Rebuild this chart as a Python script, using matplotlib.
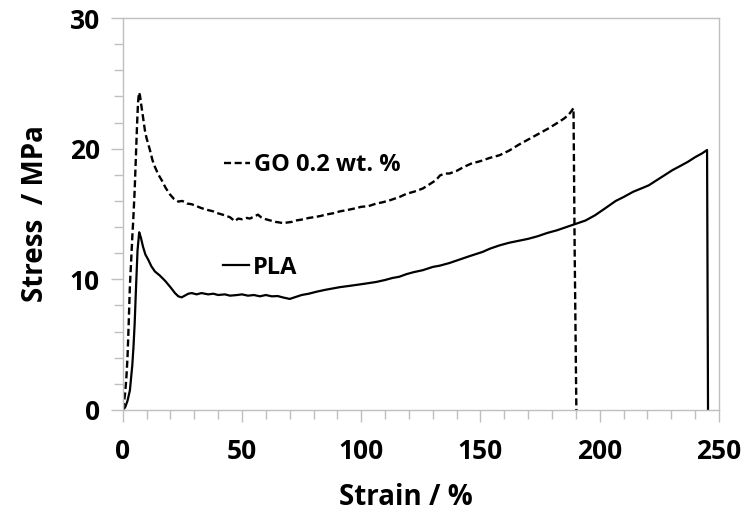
import matplotlib
matplotlib.use("Agg")
import matplotlib.pyplot as plt
from matplotlib.lines import Line2D
from matplotlib.ticker import MultipleLocator

plt.rcParams['font.family'] = ['Open Sans', 'DejaVu Sans']
plt.rcParams['font.weight'] = 'bold'

# PLA (solid)
pla_strain = [0, 1, 2, 3, 4, 4.5, 5, 5.6, 6.2, 6.9, 7.6, 8.5, 9.5, 10.7, 12, 13.5, 15.5,
              17.7, 20, 21.9, 23.3, 24.7, 26, 27.5, 28.9, 31, 33, 35.8, 38, 40, 42.8,
              45, 48, 50, 52.5, 55, 57.5, 60, 62.5, 65, 67.5, 70, 72.5, 75, 78, 81.2,
              85, 88, 91, 95.1, 99, 102, 106.3, 110, 113, 116, 119, 122, 125.8, 130,
              133, 137, 141, 145, 150.9, 154, 158, 162, 166, 170, 174, 178, 182, 186,
              190, 194, 198, 202, 206.7, 210, 214, 218, 220.6, 224, 227, 230.4, 234,
              237, 240, 243, 245, 245.2, 245.4]
pla_stress = [0, 0.2, 0.7, 1.5, 3.4, 4.8, 6.6, 9.5, 12.2, 13.6, 13.2, 12.5, 11.9, 11.5,
              11.0, 10.6, 10.3, 9.9, 9.4, 8.95, 8.7, 8.62, 8.75, 8.9, 8.95, 8.85, 8.95,
              8.85, 8.9, 8.8, 8.85, 8.75, 8.8, 8.85, 8.75, 8.8, 8.7, 8.8, 8.7, 8.72,
              8.6, 8.5, 8.65, 8.8, 8.9, 9.05, 9.2, 9.3, 9.4, 9.5, 9.6, 9.68, 9.8, 9.95,
              10.1, 10.2, 10.4, 10.55, 10.7, 10.95, 11.05, 11.25, 11.5, 11.75, 12.1,
              12.35, 12.6, 12.8, 12.95, 13.1, 13.3, 13.55, 13.75, 14.0, 14.25, 14.5,
              14.9, 15.4, 16.0, 16.3, 16.7, 17.0, 17.2, 17.6, 17.95, 18.35, 18.7, 19.0,
              19.35, 19.65, 19.9, 10.0, 0]

# GO 0.2 wt. % (dashed)
go_strain = [0, 0.5, 1, 1.5, 2, 2.5, 3, 3.5, 4, 4.4, 5, 5.5, 6, 6.4, 6.8, 7.2, 7.8, 8.6,
             9.3, 10, 11.4, 12.5, 13.5, 15, 16.3, 18, 19.8, 21.5, 23.3, 25, 27, 28.9,
             31, 33, 35.8, 38, 40, 42.8, 45, 47, 48.4, 50, 52, 53.3, 55, 56.7, 58, 60,
             62, 64, 65.8, 67.2, 69, 71, 72.5, 74.2, 76, 78, 80, 83, 85, 88.1, 91, 94,
             97.9, 100, 103, 106.3, 109, 112, 116, 119, 122, 125.8, 128, 131.4, 133,
             135, 137, 140, 143, 146, 150, 154, 158, 162, 166, 170, 174, 178, 181.6,
             185, 187, 189, 189.5, 190.2]
go_stress = [0, 0.5, 1.3, 2.4, 4.0, 6.6, 9.5, 11.3, 13.2, 14.5, 16.8, 19.3, 21.8, 23.5,
             24.3, 24.1, 23.3, 22.3, 21.4, 20.8, 19.9, 19.1, 18.6, 18.0, 17.6, 17.0,
             16.5, 16.15, 15.95, 16.0, 15.8, 15.75, 15.6, 15.45, 15.3, 15.2, 15.05,
             14.9, 14.75, 14.45, 14.65, 14.6, 14.7, 14.65, 14.8, 14.95, 14.75, 14.6,
             14.5, 14.4, 14.35, 14.3, 14.35, 14.4, 14.5, 14.55, 14.6, 14.7, 14.75,
             14.85, 14.95, 15.05, 15.2, 15.3, 15.45, 15.55, 15.6, 15.8, 15.9, 16.05,
             16.3, 16.55, 16.7, 16.95, 17.2, 17.6, 17.95, 18.1, 18.1, 18.3, 18.6,
             18.85, 19.05, 19.3, 19.5, 19.85, 20.3, 20.7, 21.1, 21.5, 21.9, 22.3, 22.6,
             23.1, 12.0, 0]

x_ticks = [0, 50, 100, 150, 200, 250]
y_ticks = [0, 10, 20, 30]

gray = '#bfbfbf'
dash = (3, 1.5)

fig = plt.figure(figsize=(7.47, 5.15), dpi=100)
ax = fig.add_axes([0.1643, 0.2039, 0.7982, 0.7611])

ax.plot(go_strain, go_stress, color='black', lw=1.7, dashes=dash)
ax.plot(pla_strain, pla_stress, color='black', lw=1.6)

ax.set_xlim(0, 250)
ax.set_ylim(0, 30)
ax.set_xticks(x_ticks)
ax.set_yticks(y_ticks)
ax.xaxis.set_minor_locator(MultipleLocator(10))
ax.yaxis.set_minor_locator(MultipleLocator(2))

for s in ax.spines.values():
    s.set_color(gray)
    s.set_linewidth(1.0)
ax.tick_params(which='both', direction='out', color=gray, width=1.0, labelsize=19, pad=8)
ax.tick_params(axis='x', which='major', pad=12)
ax.tick_params(which='major', length=8.5)
ax.tick_params(which='minor', length=6.5)

ax.set_xlabel('Strain / %', fontsize=20, fontweight='bold')
ax.set_ylabel('Stress  / MPa', fontsize=20, fontweight='bold')
ax.xaxis.set_label_coords(0.475, -0.185)
ax.yaxis.set_label_coords(-0.122, 0.5)

# inline legend entries
h_go = [Line2D([], [], color='black', lw=1.7, dashes=dash)]
h_pla = [Line2D([], [], color='black', lw=1.6)]
leg1 = ax.legend(h_go, ['GO 0.2 wt. %'], loc='center left', bbox_to_anchor=(0.170, 0.625),
                 frameon=False, fontsize=17, handlelength=1.1, handletextpad=0.15,
                 borderpad=0, borderaxespad=0)
ax.add_artist(leg1)
ax.legend(h_pla, ['PLA'], loc='center left', bbox_to_anchor=(0.168, 0.363),
          frameon=False, fontsize=17, handlelength=1.1, handletextpad=0.15,
          borderpad=0, borderaxespad=0)

fig.savefig('out.png', dpi=100)
